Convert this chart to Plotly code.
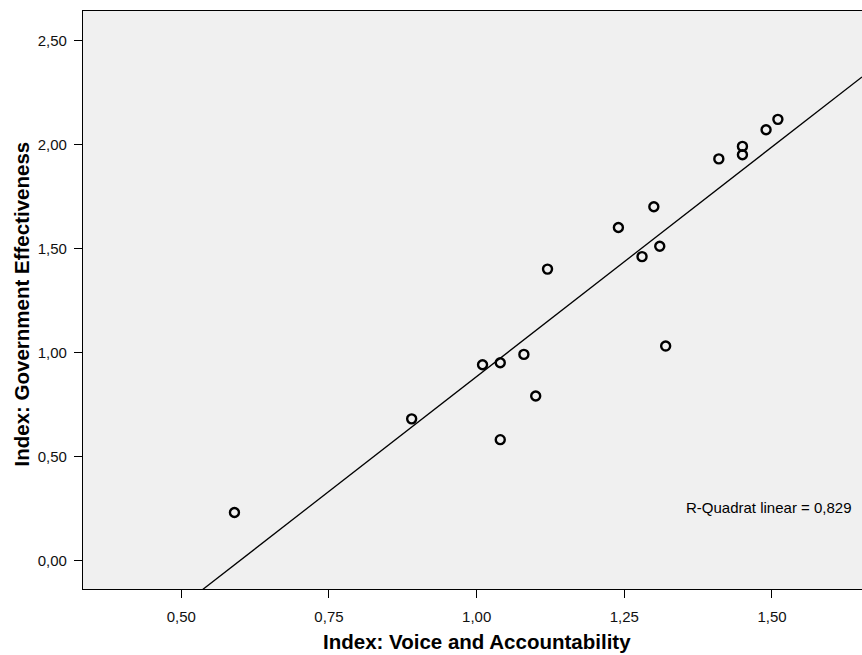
import numpy as np
import plotly.graph_objects as go

# Data
voice_accountability = [0.59, 0.89, 1.01, 1.04, 1.08, 1.10, 1.04, 1.12, 1.24, 1.28,
                        1.31, 1.30, 1.32, 1.41, 1.45, 1.45, 1.49, 1.51]
gov_effectiveness = [0.23, 0.68, 0.94, 0.95, 0.99, 0.79, 0.58, 1.40, 1.60, 1.46,
                     1.51, 1.70, 1.03, 1.93, 1.99, 1.95, 2.07, 2.12]

x_tickvals = [0.50, 0.75, 1.00, 1.25, 1.50]
x_ticktext = ["0,50", "0,75", "1,00", "1,25", "1,50"]
y_tickvals = [0.00, 0.50, 1.00, 1.50, 2.00, 2.50]
y_ticktext = ["0,00", "0,50", "1,00", "1,50", "2,00", "2,50"]

r2_label = "R-Quadrat linear = 0,829"
x_title = "Index: Voice and Accountability"
y_title = "Index: Government Effectiveness"

x_range = [0.3336, 1.6524]
y_range = [-0.138, 2.641]

# Linear fit
slope, intercept = np.polyfit(voice_accountability, gov_effectiveness, 1)
fit_x = np.array(x_range)
fit_y = slope * fit_x + intercept

FONT = "Liberation Sans, Arial, sans-serif"

fig = go.Figure()
fig.add_trace(go.Scatter(
    x=fit_x, y=fit_y, mode="lines",
    line=dict(color="black", width=1.3),
    hoverinfo="skip", showlegend=False,
))
fig.add_trace(go.Scatter(
    x=voice_accountability, y=gov_effectiveness, mode="markers",
    marker=dict(symbol="circle-open", size=9, color="black",
                line=dict(width=2.4, color="black")),
    showlegend=False,
))

fig.add_annotation(
    x=1.6388, y=0.256, xref="x", yref="y", text=r2_label, showarrow=False,
    xanchor="right", yanchor="middle",
    font=dict(family=FONT, size=15, color="black"),
)
fig.add_annotation(
    x=0.506, y=-0.091, xref="paper", yref="paper", text="<b>%s</b>" % x_title,
    showarrow=False, xanchor="center", yanchor="middle",
    font=dict(family=FONT, size=20.5, color="black"),
)
fig.add_annotation(
    x=-0.0796, y=0.494, xref="paper", yref="paper", text="<b>%s</b>" % y_title,
    showarrow=False, xanchor="center", yanchor="middle", textangle=-90,
    font=dict(family=FONT, size=20.5, color="black"),
)

fig.update_layout(
    width=862, height=655,
    margin=dict(l=83, r=0, t=11, b=66),
    paper_bgcolor="white",
    plot_bgcolor="#f0f0f0",
    font=dict(family=FONT, size=15, color="black"),
    showlegend=False,
)
fig.update_xaxes(
    range=x_range, tickmode="array", tickvals=x_tickvals, ticktext=x_ticktext,
    showgrid=False, zeroline=False, showline=True, linecolor="black", linewidth=1.3,
    mirror=True, ticks="outside", ticklen=8, tickwidth=1.3, tickcolor="black",
    ticklabelstandoff=6,
    tickfont=dict(family=FONT, size=15, color="#111"),
)
fig.update_yaxes(
    range=y_range, tickmode="array", tickvals=y_tickvals, ticktext=y_ticktext,
    showgrid=False, zeroline=False, showline=True, linecolor="black", linewidth=1.3,
    mirror=False, ticks="outside", ticklen=8, tickwidth=1.3, tickcolor="black",
    ticklabelstandoff=4,
    tickfont=dict(family=FONT, size=15, color="#111"),
)

fig.write_html(
    "out.html",
    config={"displayModeBar": False},
    post_script="document.body.style.margin='0';document.body.style.overflow='hidden';",
)
